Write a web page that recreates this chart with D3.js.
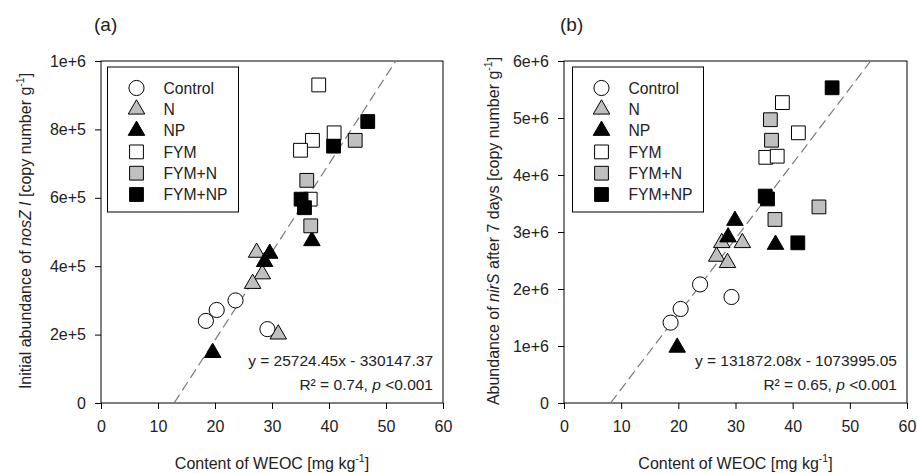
<!DOCTYPE html>
<html>
<head>
<meta charset="utf-8">
<script src="https://cdn.jsdelivr.net/npm/d3@7"></script>
<style>
  body { margin: 0; background: #fff; }
  svg text { font-family: "Liberation Sans", Arial, sans-serif; fill: #222; }
</style>
</head>
<body>
<svg id="chart" width="917" height="473"></svg>
<script>
// treatments and their symbols
var treatments = ["Control", "N", "NP", "FYM", "FYM+N", "FYM+NP"];
var shapes = ["circle", "triangle", "triangle", "square", "square", "square"];
var fills = ["#ffffff", "#c0c0c0", "#000000", "#ffffff", "#c0c0c0", "#000000"];

var xTicks = [0, 10, 20, 30, 40, 50, 60];

// panel (a): initial nosZ I abundance vs WEOC, [x, y]
var aControl = [[18.4, 240000], [20.3, 272000], [23.6, 300000], [29.2, 216000]];
var aN = [[27.3, 440000], [28.3, 377000], [26.6, 349000], [31.1, 201000]];
var aNP = [[29.6, 437000], [28.7, 413000], [37.0, 474000], [19.6, 147000]];
var aFYM = [[38.2, 930000], [40.9, 790000], [37.1, 768000], [35.0, 739000], [36.7, 596000]];
var aFYMN = [[44.6, 768000], [36.1, 651000], [36.8, 518000]];
var aFYMNP = [[46.8, 823000], [40.8, 751000], [35.1, 596000], [35.7, 571000]];
var aYTicks = [0, 200000, 400000, 600000, 800000, 1000000];
var aYTickLabels = ["0", "2e+5", "4e+5", "6e+5", "8e+5", "1e+6"];
var aFit = [25724.45, -330147.37];

// panel (b): nirS abundance after 7 days vs WEOC
var bControl = [[18.65, 1410000], [20.4, 1650000], [23.8, 2080000], [29.3, 1860000]];
var bN = [[27.6, 2810000], [26.7, 2570000], [28.6, 2460000], [31.2, 2810000]];
var bNP = [[28.7, 2910000], [29.9, 3200000], [37.0, 2780000], [19.8, 975000]];
var bFYM = [[38.2, 5270000], [41.0, 4740000], [35.3, 4310000], [37.3, 4330000]];
var bFYMN = [[36.1, 4970000], [36.3, 4610000], [36.9, 3220000], [44.6, 3440000]];
var bFYMNP = [[46.9, 5530000], [35.2, 3630000], [35.6, 3580000], [40.9, 2810000]];
var bYTicks = [0, 1000000, 2000000, 3000000, 4000000, 5000000, 6000000];
var bYTickLabels = ["0", "1e+6", "2e+6", "3e+6", "4e+6", "5e+6", "6e+6"];
var bFit = [131872.08, -1073995.05];

var svg = d3.select("#chart");

function symbolPath(shape) {
    if (shape == "circle") return d3.symbol().type(d3.symbolCircle).size(180)();
    if (shape == "triangle") return d3.symbol().type(d3.symbolTriangle).size(118)();
    return d3.symbol().type(d3.symbolSquare).size(190)();
}

function drawPanel(opt) {
    var g = svg.append("g");
    var x = d3.scaleLinear().domain([0, 60]).range([opt.left, opt.right]);
    var y = d3.scaleLinear().domain([0, opt.yMax]).range([403, 61]);

    g.append("text").attr("x", opt.tagX).attr("y", 31)
        .attr("font-size", 19).text(opt.tag);

    // axes
    g.append("g").attr("transform", "translate(0,403)")
        .call(d3.axisBottom(x).tickValues(xTicks).tickSize(6).tickPadding(12))
        .call(function (s) {
            s.select(".domain").remove();
            s.selectAll("text").attr("font-size", 16).attr("fill", "#222");
        });
    g.append("g").attr("transform", "translate(" + opt.left + ",0)")
        .call(d3.axisLeft(y).tickValues(opt.yTicks).tickSize(6).tickPadding(9)
            .tickFormat(function (d, i) { return opt.yLabels[i]; }))
        .call(function (s) {
            s.select(".domain").remove();
            s.selectAll("text").attr("font-size", 16).attr("fill", "#222");
        });

    g.append("rect").attr("x", opt.left).attr("y", 61)
        .attr("width", opt.right - opt.left).attr("height", 342)
        .attr("fill", "none").attr("stroke", "#000").attr("stroke-width", 1);

    // regression line
    var clipId = "clip" + opt.tag.replace(/\W/g, "");
    g.append("clipPath").attr("id", clipId).append("rect")
        .attr("x", opt.left).attr("y", 61).attr("width", opt.right - opt.left).attr("height", 342);
    var x0 = -opt.fit[1] / opt.fit[0], x1 = (opt.yMax - opt.fit[1]) / opt.fit[0];
    g.append("line")
        .attr("x1", x(x0)).attr("y1", y(0)).attr("x2", x(x1)).attr("y2", y(opt.yMax))
        .attr("clip-path", "url(#" + clipId + ")")
        .attr("stroke", "#7a7a7a").attr("stroke-width", 1.2).attr("stroke-dasharray", "10,5");

    // points
    opt.series.forEach(function (pts, i) {
        g.selectAll(null).data(pts).enter().append("path")
            .attr("d", symbolPath(shapes[i]))
            .attr("transform", function (d) { return "translate(" + x(d[0]) + "," + y(d[1]) + ")"; })
            .attr("fill", fills[i]).attr("stroke", "#000").attr("stroke-width", 1);
    });

    // legend
    var lg = g.append("g").attr("transform", "translate(" + opt.legX + ",67)");
    lg.append("rect").attr("width", 131).attr("height", 145)
        .attr("fill", "#fff").attr("stroke", "#000").attr("stroke-width", 1);
    treatments.forEach(function (t, i) {
        var yy = 21 + i * 21.3;
        lg.append("path").attr("d", symbolPath(shapes[i]))
            .attr("transform", "translate(29," + yy + ")")
            .attr("fill", fills[i]).attr("stroke", "#000");
        lg.append("text").attr("x", 56).attr("y", yy).attr("dy", "0.36em")
            .attr("font-size", 15.7).text(t);
    });

    // equation
    var eq = opt.fit[0].toFixed(2) + "x - " + (-opt.fit[1]).toFixed(2);
    g.append("text").attr("x", opt.right - 10).attr("y", 366).attr("text-anchor", "end")
        .attr("font-size", 15.5).text("y = " + eq);
    var r2 = g.append("text").attr("x", opt.right - 10).attr("y", 390).attr("text-anchor", "end")
        .attr("font-size", 15.5);
    r2.append("tspan").text("R\u00b2 = " + opt.r2 + ", ");
    r2.append("tspan").attr("font-style", "italic").text("p");
    r2.append("tspan").text(" <0.001");

    // x label
    var xl = g.append("text").attr("x", (opt.left + opt.right) / 2).attr("y", 469)
        .attr("text-anchor", "middle").attr("font-size", 16);
    xl.append("tspan").text("Content of WEOC [mg kg");
    xl.append("tspan").attr("dy", -7).attr("font-size", 10.5).text("-1");
    xl.append("tspan").attr("dy", 7).text("]");

    // y label
    var yl = g.append("text").attr("transform", "translate(" + opt.yLabX + ",231) rotate(-90)")
        .attr("text-anchor", "middle").attr("font-size", 16);
    opt.yLabel.forEach(function (p) {
        var ts = yl.append("tspan").text(p[0]);
        if (p[1] == "i") ts.attr("font-style", "italic");
        if (p[1] == "sup") ts.attr("dy", -7).attr("font-size", 10.5);
        if (p[1] == "down") ts.attr("dy", 7);
    });
}

drawPanel({
    tag: "(a)", tagX: 94, left: 101, right: 443, yMax: 1000000,
    yTicks: aYTicks, yLabels: aYTickLabels, fit: aFit, r2: "0.74",
    series: [aControl, aN, aNP, aFYM, aFYMN, aFYMNP], legX: 107.5, yLabX: 31,
    yLabel: [["Initial abundance of ", ""], ["nosZ I", "i"], [" [copy number g", ""], ["-1", "sup"], ["]", "down"]]
});

drawPanel({
    tag: "(b)", tagX: 560, left: 564, right: 907, yMax: 6000000,
    yTicks: bYTicks, yLabels: bYTickLabels, fit: bFit, r2: "0.65",
    series: [bControl, bN, bNP, bFYM, bFYMN, bFYMNP], legX: 572.5, yLabX: 499,
    yLabel: [["Abundance of ", ""], ["nirS", "i"], [" after 7 days [copy number g", ""], ["-1", "sup"], ["]", "down"]]
});
</script>
</body>
</html>
